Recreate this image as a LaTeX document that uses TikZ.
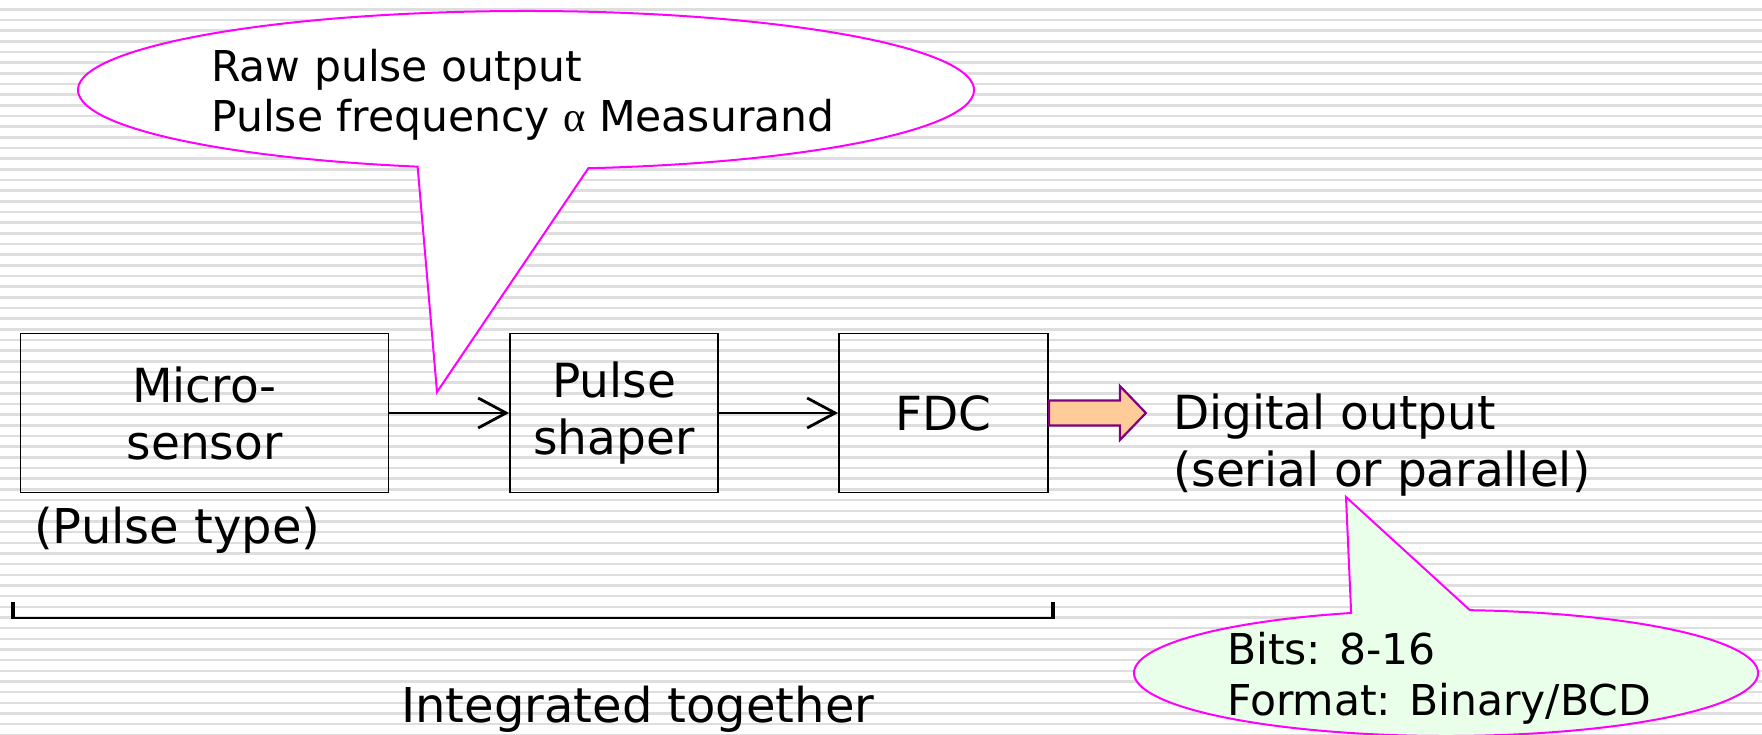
\documentclass[tikz,border=0pt]{standalone}
\usepackage{fontspec}
\setmainfont{DejaVu Sans}
\newfontfamily\greekserif{Liberation Serif}
\usetikzlibrary{arrows.meta,calc}
\definecolor{stripe}{RGB}{222,222,222}
\definecolor{callpink}{RGB}{255,0,255}
\definecolor{mint}{RGB}{234,255,234}
\definecolor{peach}{RGB}{255,204,153}
\definecolor{plum}{RGB}{128,0,128}
\begin{document}
\begin{tikzpicture}[x=1pt,y=1pt,
  blk/.style={draw=black, line width=1.8pt, align=center, inner sep=0pt,
              minimum height=159pt, font=\fontsize{47}{57}\selectfont},
  conn/.style={line width=2.8pt, -{Straight Barb[length=28pt,width=30pt]}},
  callout/.style={draw=callpink, line width=2pt, line join=miter},
  bigtext/.style={font=\fontsize{47}{57}\selectfont, inner sep=0pt, align=left},
  smalltext/.style={font=\fontsize{42.5}{50.5}\selectfont, inner sep=0pt, align=left},
  outarrow/.style={draw=plum, fill=peach, line width=2.2pt, line join=miter},
]
\useasboundingbox (0,0) rectangle (1762,734);
% striped backdrop
\fill[white] (0,0) rectangle (1762,734);
\foreach \k in {0,...,69}
  \fill[stripe] (0,{735.4-10.67*\k-1.25}) rectangle (1762,{735.4-10.67*\k+1.25});

% processing chain
\node[blk, minimum width=368pt] (sensor) at (204.5,321) {Micro-\\sensor};
\node[blk, minimum width=208pt] (shaper) at (614,321) {Pulse\\shaper};
\node[blk, minimum width=209pt] (fdc) at (943.5,321) {FDC};
\draw[conn] (sensor.east) -- (shaper.west);
\draw[conn] (shaper.east) -- (fdc.west);

% output arrow and label
\draw[outarrow] (fdc.east) ++(0,12.5) -- ++(71,0) -- ++(0,14.5) -- ++(26,-27)
  -- ++(-26,-27) -- ++(0,14.5) -- ++(-71,0) -- cycle;
\node[bigtext, anchor=base west] (out) at (1173,247) {Digital output\\(serial or parallel)};

\node[bigtext, font=\fontsize{48}{57}\selectfont, anchor=base west] (ptype) at (34,190) {(Pulse type)};

% bracket over the integrated part
\coordinate (bl) at (13,116);
\coordinate (br) at (1053,116);
\draw[line width=2.4pt] (bl) -- (br);
\draw[line width=4pt] ($(bl)+(0,-1.2)$) -- ++(0,17.2);
\draw[line width=4pt] ($(br)+(0,-1.2)$) -- ++(0,17.2);
\node[bigtext, font=\fontsize{48}{57}\selectfont, anchor=base west] (integ) at (401,12) {Integrated together};

% callout on the raw pulse signal
\coordinate (c1) at (526,644);
\coordinate (tip1) at (437,342);
\filldraw[callout, fill=white] (c1) ++(-82:448 and 79)
  arc[start angle=-82, end angle=256, x radius=448, y radius=79] -- (tip1) -- cycle;
\node[smalltext, anchor=base west] (note1) at (211,602) {Raw pulse output\\Pulse frequency {\greekserif α} Measurand};

% callout on the digital output
\coordinate (c2) at (1446,61);
\coordinate (tip2) at (1346,237);
\filldraw[callout, fill=mint] (c2) ++(107.7:312 and 63)
  arc[start angle=107.7, end angle=445.6, x radius=312, y radius=63] -- (tip2) -- cycle;
\node[smalltext, anchor=base west] (note2) at (1227,19) {Bits: 8-16\\Format: Binary/BCD};
\end{tikzpicture}
\end{document}
